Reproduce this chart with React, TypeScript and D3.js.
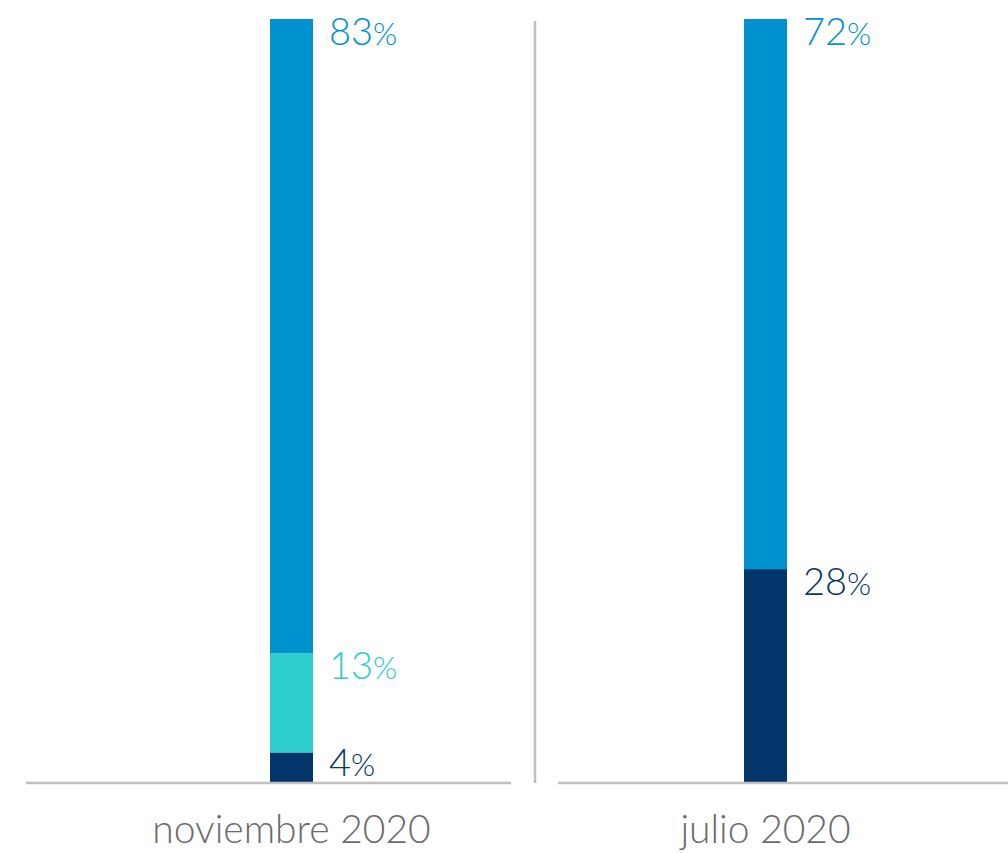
import React from "react";
import * as d3 from "d3";

const categories = ["noviembre 2020", "julio 2020"];
const seriesKeys = ["navy", "aqua", "blue"];
const navyValues = [4, 28];
const aquaValues = [13, 0];
const blueValues = [83, 72];
const colors: Record<string, string> = { navy: "#03366a", aqua: "#2dcccd", blue: "#0091cf" };

const W = 1008;
const H = 853;
const baseY = 783;
const topY = 19;

export default function App() {
  const rows = categories.map((c, i) => ({
    cat: c,
    navy: navyValues[i],
    aqua: aquaValues[i],
    blue: blueValues[i],
  }));
  const stacked = d3.stack<any>().keys(seriesKeys)(rows);
  const y = d3.scaleLinear().domain([0, 100]).range([baseY, topY]);
  const x = d3.scalePoint<string>().domain(categories).range([291.5, 765.5]);
  const barW = 43;
  const panels = [
    { x1: 26, x2: 511 },
    { x1: 558, x2: 1008 },
  ];

  return (
    <svg width={W} height={H} style={{ position: "absolute", left: 0, top: 0, display: "block" }}>
      <rect width={W} height={H} fill="#fff" />
      {stacked.map((s) =>
        s.map((d, i) => {
          const v = d[1] - d[0];
          if (v <= 0) return null;
          const cx = x(categories[i])!;
          return (
            <rect
              key={s.key + i}
              x={cx - barW / 2}
              y={y(d[1])}
              width={barW}
              height={y(d[0]) - y(d[1])}
              fill={colors[s.key]}
            />
          );
        })
      )}
      {panels.map((p, i) => (
        <line key={"b" + i} x1={p.x1} x2={p.x2} y1={baseY} y2={baseY} stroke="#bfbfbf" strokeWidth={2.5} />
      ))}
      <line x1={535} x2={535} y1={21} y2={baseY} stroke="#bfbfbf" strokeWidth={2.5} />
      {stacked.map((s) =>
        s.map((d, i) => {
          const v = d[1] - d[0];
          if (v <= 0) return null;
          const cx = x(categories[i])!;
          const segTop = y(d[1]);
          const segBot = y(d[0]);
          const by = Math.min(segTop + 26, segBot - 7);
          return (
            <text
              key={"t" + s.key + i}
              x={cx + barW / 2 + 16}
              y={by}
              fill={colors[s.key]}
              fontFamily="Lato, 'Open Sans', sans-serif"
              fontWeight={300}
              fontSize={38}
            >
              {v}
              <tspan fontSize={31}>%</tspan>
            </text>
          );
        })
      )}
      {categories.map((c) => (
        <text
          key={"c" + c}
          x={x(c)!}
          y={843}
          textAnchor="middle"
          fill="#6b6b6b"
          fontFamily="Lato, 'Open Sans', sans-serif"
          fontWeight={300}
          fontSize={39}
        >
          {c}
        </text>
      ))}
    </svg>
  );
}
